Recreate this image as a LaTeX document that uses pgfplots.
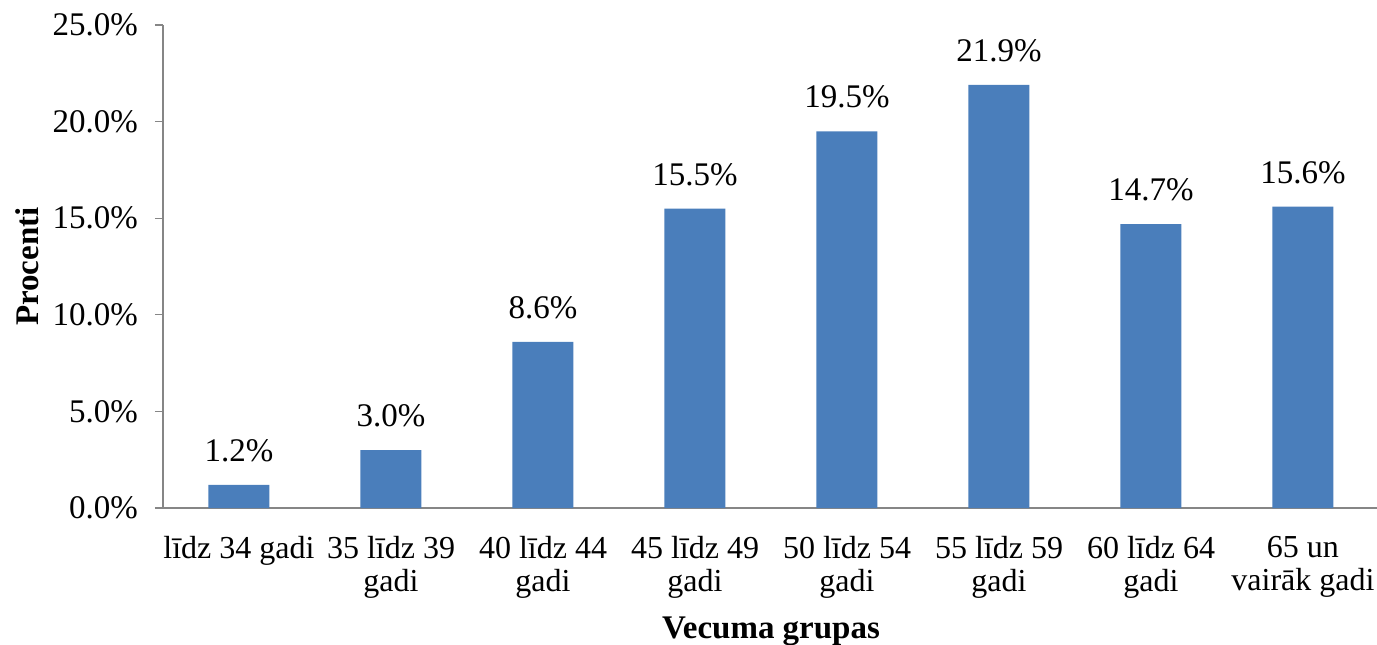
\documentclass[border=0pt]{standalone}
\usepackage{pgfplots}
\pgfplotsset{compat=1.18}
\usepackage{fontspec}
\setmainfont{Liberation Serif}
\definecolor{barblue}{HTML}{4A7EBB}
\definecolor{axisgray}{HTML}{868686}
\begin{document}
\begin{tikzpicture}
\useasboundingbox (-81.5pt,-68pt) rectangle (607pt,254pt);
\begin{axis}[
  scale only axis,
  width=608pt, height=241.5pt,
  xmin=-0.5, xmax=7.5,
  ymin=0, ymax=25,
  axis x line*=bottom,
  axis y line*=left,
  axis line style={axisgray, line width=0.6pt},
  ybar, bar width=30.5pt,
  xtick={0,...,7},
  xticklabels={l\=idz 34 gadi, 35 l\=idz 39\\gadi, 40 l\=idz 44\\gadi, 45 l\=idz 49\\gadi, 50 l\=idz 54\\gadi, 55 l\=idz 59\\gadi, 60 l\=idz 64\\gadi, 65 un\\vair\=ak gadi},
  xticklabel style={font=\fontsize{16}{16.5}\selectfont, align=center, yshift=-6.5pt},
  x tick style={draw=none},
  extra x ticks={-0.5,0.5,...,7.5},
  extra x tick labels={},
  extra x tick style={tick style={draw=axisgray, line width=0.6pt}, major tick length=4.5pt, tick align=outside},
  ytick={0,5,...,25},
  yticklabel={\pgfmathprintnumber[fixed,fixed zerofill,precision=1]{\tick}\%},
  /pgf/number format/assume math mode=true,
  yticklabel style={font=\fontsize{16.5}{18}\selectfont, xshift=-5pt},
  y tick style={draw=axisgray, line width=0.6pt},
  tick align=outside,
  major tick length=4pt,
  nodes near coords={\pgfmathprintnumber[fixed,fixed zerofill,precision=1]{\pgfplotspointmeta}\%},
  nodes near coords style={font=\fontsize{16.5}{18}\selectfont, yshift=8pt, text=black},
  every axis x label/.style={at={(axis description cs:0.5,0)}, anchor=base, yshift=-65pt},
  every axis y label/.style={at={(axis description cs:0,0.5)}, xshift=-68pt, anchor=center, rotate=90},
  xlabel={\fontsize{16.5}{18}\selectfont\bfseries Vecuma grupas},
  ylabel={\fontsize{16.5}{18}\selectfont\bfseries Procenti},
  clip=false,
]
\addplot[fill=barblue, draw=none] coordinates {(0,1.2) (1,3.0) (2,8.6) (3,15.5) (4,19.5) (5,21.9) (6,14.7) (7,15.6)};
\end{axis}
\end{tikzpicture}
\end{document}
